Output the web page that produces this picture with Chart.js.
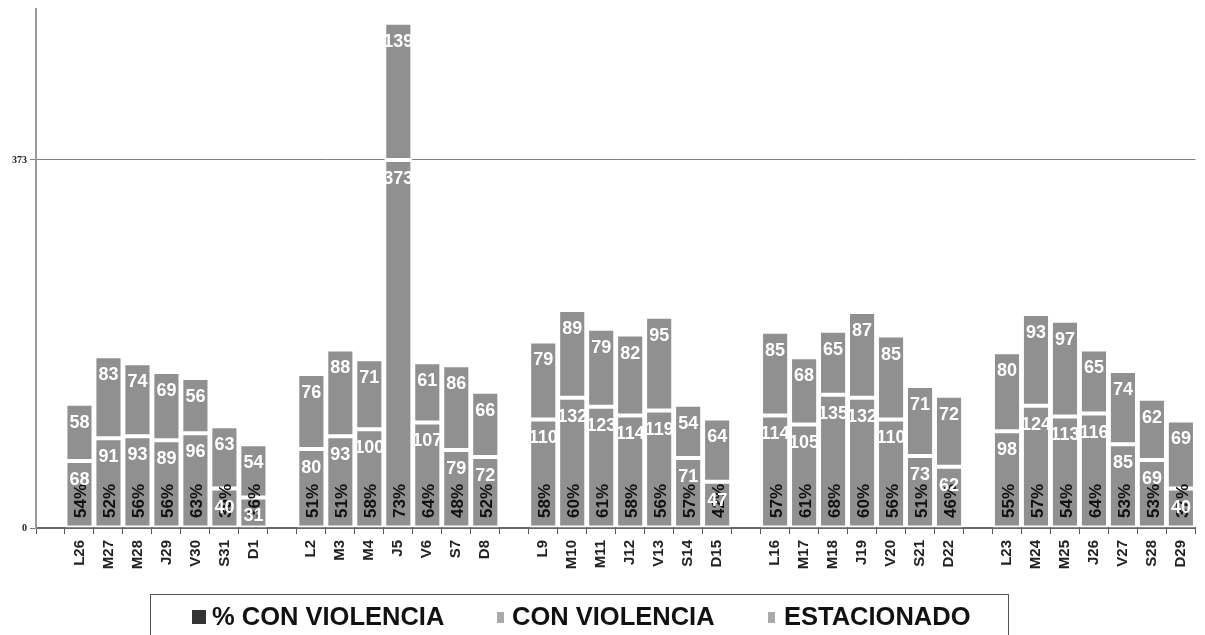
<!DOCTYPE html>
<html>
<head>
<meta charset="utf-8">
<script src="https://cdn.jsdelivr.net/npm/chart.js@4.4.1/dist/chart.umd.min.js"></script>
<style>
  body { margin: 0; background: #fff; }
  #wrap { position: relative; width: 1205px; height: 635px; overflow: hidden; }
  #legend {
    position: absolute; left: 150px; top: 594px; width: 859px; height: 50px;
    border: 1px solid #555; box-sizing: border-box;
    font: bold 25.5px "Liberation Sans", Arial, sans-serif;
    color: #111;
  }
  #legend .item { position: absolute; top: 5px; white-space: nowrap; line-height: 32px; }
  #legend .box { display: inline-block; vertical-align: middle; position: relative; top: -1px; }
</style>
</head>
<body>
<div id="wrap">
  <canvas id="chart" width="1205" height="635"></canvas>
  <div id="legend"></div>
</div>
<script>
// categorias (con huecos entre semanas)
const categories = [
  '', 'L26', 'M27', 'M28', 'J29', 'V30', 'S31', 'D1',
  '', 'L2', 'M3', 'M4', 'J5', 'V6', 'S7', 'D8',
  '', 'L9', 'M10', 'M11', 'J12', 'V13', 'S14', 'D15',
  '', 'L16', 'M17', 'M18', 'J19', 'V20', 'S21', 'D22',
  '', 'L23', 'M24', 'M25', 'J26', 'V27', 'S28', 'D29'
];
const conViolencia = [
  null, 68, 91, 93, 89, 96, 40, 31,
  null, 80, 93, 100, 373, 107, 79, 72,
  null, 110, 132, 123, 114, 119, 71, 47,
  null, 114, 105, 135, 132, 110, 73, 62,
  null, 98, 124, 113, 116, 85, 69, 40
];
const estacionado = [
  null, 58, 83, 74, 69, 56, 63, 54,
  null, 76, 88, 71, 139, 61, 86, 66,
  null, 79, 89, 79, 82, 95, 54, 64,
  null, 85, 68, 65, 87, 85, 71, 72,
  null, 80, 93, 97, 65, 74, 62, 69
];
const pctViolencia = [
  null, 54, 52, 56, 56, 63, 39, 36,
  null, 51, 51, 58, 73, 64, 48, 52,
  null, 58, 60, 61, 58, 56, 57, 42,
  null, 57, 61, 68, 60, 56, 51, 46,
  null, 55, 57, 54, 64, 53, 53, 37
];
const yTicks = [0, 373];
const seriesNames = ['% CON VIOLENCIA', 'CON VIOLENCIA', 'ESTACIONADO'];

const BAR = '#909090';

// etiquetas de los valores dentro de las barras
const barLabels = {
  id: 'barLabels',
  afterDatasetsDraw(chart) {
    const ctx = chart.ctx;
    const base = chart.scales.y.getPixelForValue(0);
    chart.data.datasets.forEach((ds, i) => {
      const meta = chart.getDatasetMeta(i);
      meta.data.forEach((el, j) => {
        const v = ds.data[j];
        if (v == null) return;
        ctx.save();
        if (ds.type === 'line') {
          ctx.translate(el.x + 2, base - 10);
          ctx.rotate(-Math.PI / 2);
          ctx.font = 'bold 17px "Liberation Sans", Arial, sans-serif';
          ctx.fillStyle = '#111';
          ctx.textAlign = 'left';
          ctx.textBaseline = 'middle';
          ctx.fillText(v + '%', 0, 0);
        } else {
          ctx.font = 'bold 18px "Liberation Sans", Arial, sans-serif';
          ctx.fillStyle = '#fff';
          ctx.textAlign = 'center';
          ctx.textBaseline = 'middle';
          ctx.fillText(v, el.x, el.y + 19);
        }
        ctx.restore();
      });
    });
  }
};

new Chart(document.getElementById('chart'), {
  type: 'bar',
  data: {
    labels: categories,
    datasets: [
      {
        type: 'line', label: seriesNames[0], data: pctViolencia, yAxisID: 'yPct',
        showLine: false, pointRadius: 0, borderColor: '#333', backgroundColor: '#333'
      },
      {
        label: seriesNames[1], data: conViolencia, backgroundColor: BAR,
        borderColor: '#fff', borderWidth: 2, borderSkipped: false, stack: 's'
      },
      {
        label: seriesNames[2], data: estacionado, backgroundColor: BAR,
        borderColor: '#fff', borderWidth: 2, borderSkipped: false, stack: 's'
      }
    ]
  },
  options: {
    responsive: false,
    animation: false,
    events: [],
    layout: { padding: { top: 9, right: 8, bottom: 57, left: 0 } },
    datasets: { bar: { barPercentage: 0.97, categoryPercentage: 1 } },
    plugins: { legend: { display: false }, tooltip: { enabled: false } },
    scales: {
      x: {
        stacked: true,
        afterFit(scale) { scale.height = 50; },
        grid: { drawOnChartArea: false, drawTicks: true, tickLength: 6, color: '#555', offset: true },
        border: { color: '#666', width: 2 },
        ticks: {
          autoSkip: false, minRotation: 90, maxRotation: 90, padding: 6,
          color: '#222', font: { family: '"Liberation Sans", Arial, sans-serif', size: 15, weight: 'bold' }
        }
      },
      y: {
        stacked: true,
        min: 0, max: 526,
        afterFit(scale) { scale.width = 36; },
        afterBuildTicks(scale) { scale.ticks = yTicks.map(v => ({ value: v })); },
        grid: { color: '#808080', lineWidth: 1, tickLength: 6 },
        border: { color: '#999', width: 2 },
        ticks: {
          padding: 3, color: '#222',
          font: { family: '"Liberation Serif", "Times New Roman", serif', size: 10, weight: 'bold' }
        }
      },
      yPct: { display: false, min: 0, max: 100 }
    }
  },
  plugins: [barLabels]
});

// leyenda
const legendColors = ['#333', '#aaa', '#aaa'];
const legendBoxes = [[14, 14], [7, 11], [7, 11]];
const legendGaps = [6, 8, 9];
const legendLefts = [41, 346, 617];
const legend = document.getElementById('legend');
seriesNames.forEach((name, i) => {
  const item = document.createElement('span');
  item.className = 'item';
  item.style.left = legendLefts[i] + 'px';
  const box = document.createElement('span');
  box.className = 'box';
  box.style.width = legendBoxes[i][0] + 'px';
  box.style.height = legendBoxes[i][1] + 'px';
  box.style.marginRight = legendGaps[i] + 'px';
  box.style.background = legendColors[i];
  item.appendChild(box);
  item.appendChild(document.createTextNode(name));
  legend.appendChild(item);
});
</script>
</body>
</html>
